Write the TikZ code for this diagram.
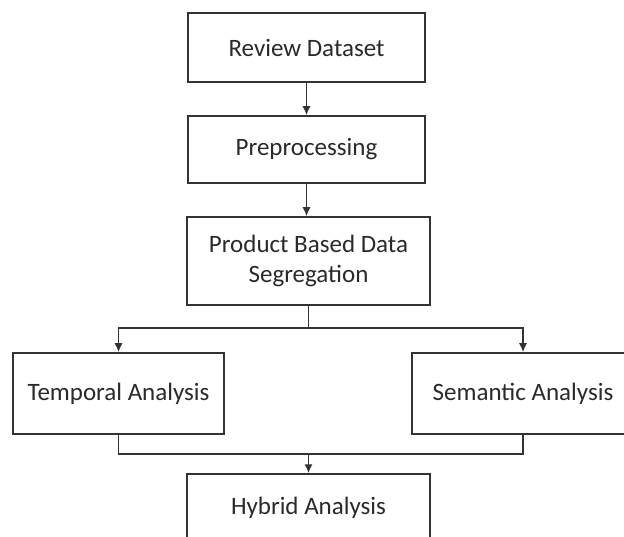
\documentclass[tikz,border=0pt]{standalone}
\usepackage{fontspec}
\setmainfont{Carlito}
\usetikzlibrary{arrows.meta}
\definecolor{ln}{HTML}{333333}
\definecolor{tx}{HTML}{2A2A2A}
\begin{document}
\begin{tikzpicture}[x=1pt,y=-1pt,
  box/.style={draw=ln, line width=1.5pt, fill=white, inner sep=0pt, align=center,
    text=tx, font=\fontsize{25}{30}\selectfont},
  conn/.style={draw=ln, line width=1.5pt},
  arr/.style={conn, -{Latex[length=9pt,width=8pt]}}]
\fill[white] (0,0) rectangle (624,537);
\useasboundingbox (0,0) rectangle (624,537);
\clip (0,0) rectangle (624,537);
\node[box, minimum width=237pt, minimum height=69pt] (rev) at (306.5,47.5) {Review Dataset};
\node[box, minimum width=237pt, minimum height=67pt] (pre) at (306.5,149.5) {Preprocessing};
\node[box, minimum width=243pt, minimum height=88pt] (prod) at (308.5,261) {Product Based Data\\Segregation};
\node[box, minimum width=211pt, minimum height=81pt] (temp) at (118.5,393.5) {Temporal Analysis};
\node[box, minimum width=222pt, minimum height=81pt] (sem) at (523,393.5) {Semantic Analysis};
\node[box, minimum width=243pt, minimum height=68pt] (hyb) at (308.5,508) {Hybrid Analysis};
\coordinate (br) at (308.5,328);
\coordinate (jn) at (308.5,454);
\draw[arr] (rev) -- (pre);
\draw[arr] (pre.south) -- (pre.south |- prod.north);
\draw[conn] (prod.south) -- (br);
\draw[arr] (br) -| (temp.north);
\draw[arr] (br) -| (sem.north);
\draw[conn] (temp.south) |- (jn);
\draw[conn] (sem.south) |- (jn);
\draw[arr] (jn) -- (hyb.north);
\end{tikzpicture}
\end{document}
